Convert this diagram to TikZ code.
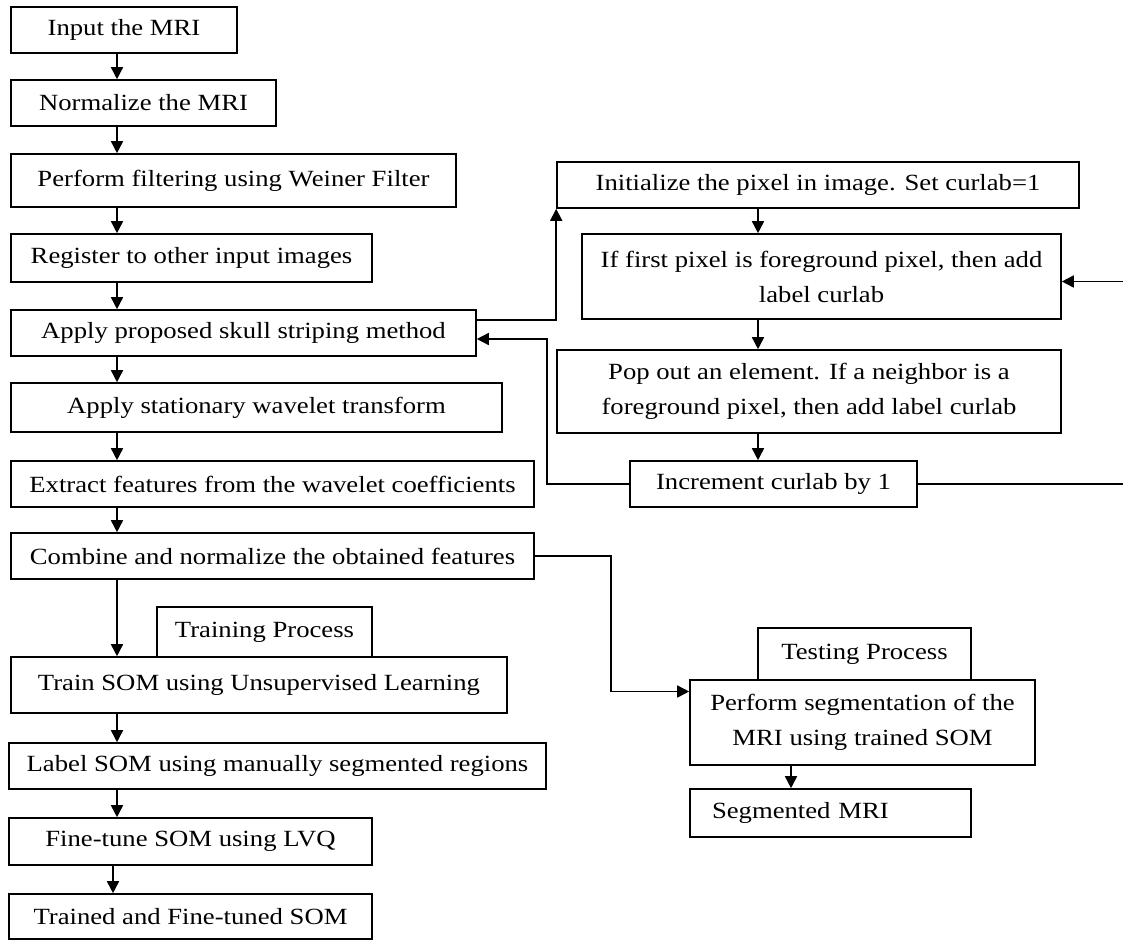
\documentclass[tikz,border=0pt]{standalone}
\usepackage{fontspec}
\setmainfont[FakeStretch=1.15]{Liberation Serif}
\usetikzlibrary{arrows.meta}

\begin{document}
\begin{tikzpicture}[x=1pt,y=-1pt,line width=1.6pt,>={Triangle[length=12pt,width=12pt]}]
        \tikzstyle{every node}=[draw,rectangle,inner sep=0pt,align=center,font=\fontsize{23.2}{35}\selectfont]
            \useasboundingbox (0,0) rectangle (1123,941);
            \coordinate (ax) at (117,0);
            \coordinate (bx) at (758,0);
            \coordinate (cx) at (791,0);
            \coordinate (rt) at (1128,0);

            \node[minimum width=226pt,minimum height=46pt] (in) at (124,30) {Input the MRI};
            \node[minimum width=265pt,minimum height=46pt] (norm) at (143.5,103) {Normalize the MRI};
            \node[minimum width=445pt,minimum height=53pt] (filt) at (233.5,180.5) {Perform filtering using Weiner Filter};
            \node[minimum width=361pt,minimum height=48pt] (reg) at (191.5,258) {Register to other input images};
            \node[minimum width=465pt,minimum height=46pt] (skull) at (243.5,333) {Apply proposed skull striping method};
            \node[minimum width=491pt,minimum height=49pt] (swt) at (256.5,407.5) {Apply stationary wavelet transform};
            \node[minimum width=523pt,minimum height=46pt] (feat) at (272.5,484) {Extract features from the wavelet coefficients};
            \node[minimum width=523pt,minimum height=46pt] (comb) at (272.5,556) {Combine and normalize the obtained features};
            \node[minimum width=215pt,minimum height=50pt] (trainp) at (264.5,632) {Training Process};
            \node[minimum width=496pt,minimum height=56pt] (train) at (259,685) {Train SOM using Unsupervised Learning};
            \node[minimum width=537pt,minimum height=46pt] (lab) at (277.5,766) {Label SOM using manually segmented regions};
            \node[minimum width=363pt,minimum height=47pt] (fine) at (190.5,841.5) {Fine-tune SOM using LVQ};
            \node[minimum width=363pt,minimum height=45pt] (done) at (190.5,916.5) {Trained and Fine-tuned SOM};

            \node[minimum width=522pt,minimum height=46pt] (init) at (818,185) {Initialize the pixel in image. Set curlab=1};
            \node[minimum width=479pt,minimum height=85pt] (first) at (821.5,276.5) {If first pixel is foreground pixel, then add\\ label curlab};
            \node[minimum width=504pt,minimum height=83pt] (pop) at (809,391.5) {Pop out an element. If a neighbor is a\\ foreground pixel, then add label curlab};
            \node[minimum width=287pt,minimum height=46pt] (inc) at (773.5,484) {Increment curlab by 1};

            \node[minimum width=213pt,minimum height=52pt] (testp) at (864.5,654) {Testing Process};
            \node[minimum width=345pt,minimum height=85pt] (seg) at (862.5,722.5) {Perform segmentation of the\\ MRI using trained SOM};
            \node[text width=237pt,inner xsep=22pt,minimum height=48pt,align=left] (segd) at (830.5,813) {Segmented MRI};

            \foreach \a/\b in {in/norm,norm/filt,filt/reg,reg/skull,skull/swt,swt/feat,feat/comb,comb/train,train/lab}
                \draw[->] (\a.south -| ax) -- (\b.north -| ax);
            \draw[->] (lab.south -| ax) -- (fine.north -| ax);
            \draw[->] ([xshift=-4pt]fine.south -| ax) -- ([xshift=-4pt]done.north -| ax);
            \foreach \a/\b in {init/first,first/pop,pop/inc}
                \draw[->] (\a.south -| bx) -- (\b.north -| bx);
            \draw[->] (seg.south -| cx) -- (segd.north -| cx);

            \draw[->] ([yshift=13pt]skull.east) -| (init.south west);
            \draw[->] (inc.west) -| ([xshift=70pt,yshift=-6pt]skull.east) -- ([yshift=-6pt]skull.east);
            \draw[->] (inc.east) -- (inc.east -| rt) -- ([yshift=-5pt]first.east -| rt) -- ([yshift=-5pt]first.east);
            \draw[->] (comb.east) -| ([xshift=-78pt,yshift=31pt]seg.west) -- ([yshift=31pt]seg.west);
        \end{tikzpicture}
\end{document}
